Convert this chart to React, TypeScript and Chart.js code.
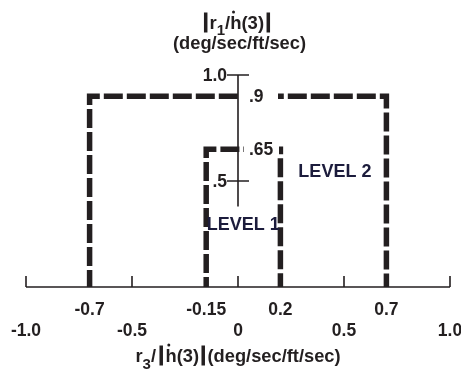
import React, { useEffect, useRef } from "react";
import { Chart, registerables } from "chart.js";

Chart.register(...registerables);

// ---- data ----
const level2X = [-0.7, -0.7, 0.7, 0.7];
const level2Y = [0, 0.9, 0.9, 0];
const level1X = [-0.15, -0.15, 0.2, 0.2];
const level1Y = [0, 0.65, 0.65, 0];

const xTicks = [-1.0, -0.5, 0, 0.5, 1.0];
const xTickLabels = ["-1.0", "-0.5", "0", "0.5", "1.0"];
const boundaryTicks = [-0.7, -0.15, 0.2, 0.7];
const boundaryLabels = ["-0.7", "-0.15", "0.2", "0.7"];
const yTicks = [0.5, 1.0];
const yTickLabels = [".5", "1.0"];
const topValues = [0.9, 0.65];
const topLabels = [".9", ".65"];
const levelNames = ["LEVEL 1", "LEVEL 2"];
const levelPosX = [0.025, 0.457];
const levelPosY = [0.29, 0.54];

const INK = "#231f20";
const NAVY = "#1c1c3c";
const FONT = '"Liberation Sans", Arial, sans-serif';

type Seg = { t?: string; size?: number; dy?: number; bar?: boolean; dot?: boolean; gap?: number };

function drawSeq(ctx: CanvasRenderingContext2D, segs: Seg[], cx: number, baseY: number, base: number) {
  const widths = segs.map((s) => {
    if (s.bar) return 4.5;
    if (s.gap) return s.gap;
    ctx.font = `bold ${s.size || base}px ${FONT}`;
    return ctx.measureText(s.t || "").width;
  });
  const total = widths.reduce((a, b) => a + b, 0);
  let x = cx - total / 2;
  ctx.textBaseline = "alphabetic";
  ctx.textAlign = "left";
  segs.forEach((s, i) => {
    if (s.bar) {
      ctx.fillRect(x + 0.5, baseY - 16.5, 3.5, 20);
    } else if (s.gap) {
      // spacing only
    } else {
      ctx.font = `bold ${s.size || base}px ${FONT}`;
      ctx.fillText(s.t || "", x, baseY + (s.dy || 0));
      if (s.dot) {
        ctx.beginPath();
        ctx.arc(x + widths[i] * 0.3, baseY - 17, 1.5, 0, Math.PI * 2);
        ctx.fill();
      }
    }
    x += widths[i];
  });
}

const axesPlugin = {
  id: "customAxes",
  afterDatasetsDraw(chart: any) {
    const ctx: CanvasRenderingContext2D = chart.ctx;
    const xs = chart.scales.x;
    const ys = chart.scales.y;
    const X = (v: number) => xs.getPixelForValue(v);
    const Y = (v: number) => ys.getPixelForValue(v);
    ctx.save();
    ctx.strokeStyle = INK;
    ctx.fillStyle = INK;
    ctx.lineWidth = 1.6;
    // horizontal axis
    ctx.beginPath();
    ctx.moveTo(X(-1), Y(0));
    ctx.lineTo(X(1), Y(0));
    xTicks.forEach((t) => {
      ctx.moveTo(X(t), Y(0));
      ctx.lineTo(X(t), Y(0) - 11);
    });
    // vertical axis
    ctx.moveTo(X(0), Y(1.0));
    ctx.lineTo(X(0), Y(0.38));
    yTicks.forEach((t) => {
      ctx.moveTo(X(0) - 11, Y(t));
      ctx.lineTo(X(0) + 11, Y(t));
    });
    ctx.stroke();

    ctx.font = `bold 17.5px ${FONT}`;
    ctx.textBaseline = "middle";
    ctx.textAlign = "center";
    xTicks.forEach((t, i) => ctx.fillText(xTickLabels[i], X(t), Y(0) + 44));
    boundaryTicks.forEach((t, i) => ctx.fillText(boundaryLabels[i], X(t), Y(0) + 23));
    ctx.textAlign = "right";
    yTicks.forEach((t, i) => ctx.fillText(yTickLabels[i], X(0) - 11, Y(t) + 1));
    topValues.forEach((v, i) => {
      const left = X(0) + (i === 0 ? 2 : 6);
      const right = i === 0 ? left + 38 : left + 35;
      ctx.fillStyle = "#ffffff";
      ctx.fillRect(left, Y(v) - 8, right - left, 16);
      ctx.fillStyle = INK;
      ctx.textAlign = "left";
      ctx.fillText(topLabels[i], X(0) + 11, Y(v) + 1);
    });
    ctx.fillStyle = NAVY;
    ctx.textAlign = "center";
    ctx.font = `bold 18px ${FONT}`;
    levelNames.forEach((n, i) => ctx.fillText(n, X(levelPosX[i]), Y(levelPosY[i])));

    // titles
    ctx.fillStyle = INK;
    drawSeq(
      ctx,
      [
        { bar: true },
        { gap: 1.5 },
        { t: "r" },
        { t: "1", size: 15, dy: 6 },
        { t: "/" },
        { t: "h", dot: true },
        { t: "(3)" },
        { gap: 2 },
        { bar: true },
      ],
      X(0) - 1,
      29,
      18.5
    );
    ctx.font = `bold 18.3px ${FONT}`;
    ctx.textAlign = "center";
    ctx.textBaseline = "alphabetic";
    ctx.fillText("(deg/sec/ft/sec)", X(0) + 1.5, 49);
    drawSeq(
      ctx,
      [
        { t: "r" },
        { t: "3", size: 15, dy: 7 },
        { t: "/" },
        { gap: 3 },
        { bar: true },
        { gap: 2 },
        { t: "h", dot: true },
        { t: "(3)" },
        { gap: 2 },
        { bar: true },
        { gap: 2 },
        { t: "(deg/sec/ft/sec)" },
      ],
      X(0),
      362,
      18.3
    );
    ctx.restore();
  },
};

export default function App() {
  const ref = useRef<HTMLCanvasElement | null>(null);
  useEffect(() => {
    if (!ref.current) return;
    const mk = (xs: number[], ys: number[]) => xs.map((x, i) => ({ x, y: ys[i] }));
    const chart = new Chart(ref.current, {
      type: "scatter",
      data: {
        datasets: [
          {
            data: mk(level2X, level2Y),
            showLine: true,
            borderColor: INK,
            borderWidth: 5.5,
            borderDash: [19, 4],
            borderDashOffset: 2,
            borderJoinStyle: "miter",
            pointRadius: 0,
            fill: false,
          },
          {
            data: mk(level1X, level1Y),
            showLine: true,
            borderColor: INK,
            borderWidth: 5.5,
            borderDash: [19, 4],
            borderDashOffset: 9,
            borderJoinStyle: "miter",
            pointRadius: 0,
            fill: false,
          },
        ],
      },
      options: {
        animation: false,
        responsive: false,
        devicePixelRatio: 1,
        layout: { padding: { left: 26, right: 11, top: 11.4, bottom: 84 } },
        plugins: { legend: { display: false }, tooltip: { enabled: false } },
        scales: {
          x: { type: "linear", min: -1, max: 1, display: false },
          y: { type: "linear", min: 0, max: 1.3, display: false },
        },
      },
      plugins: [axesPlugin],
    });
    return () => chart.destroy();
  }, []);
  return (
    <div style={{ position: "absolute", left: 0, top: 0, width: 461, height: 371, background: "#fff" }}>
      <canvas ref={ref} width={461} height={371} style={{ display: "block" }} />
    </div>
  );
}
